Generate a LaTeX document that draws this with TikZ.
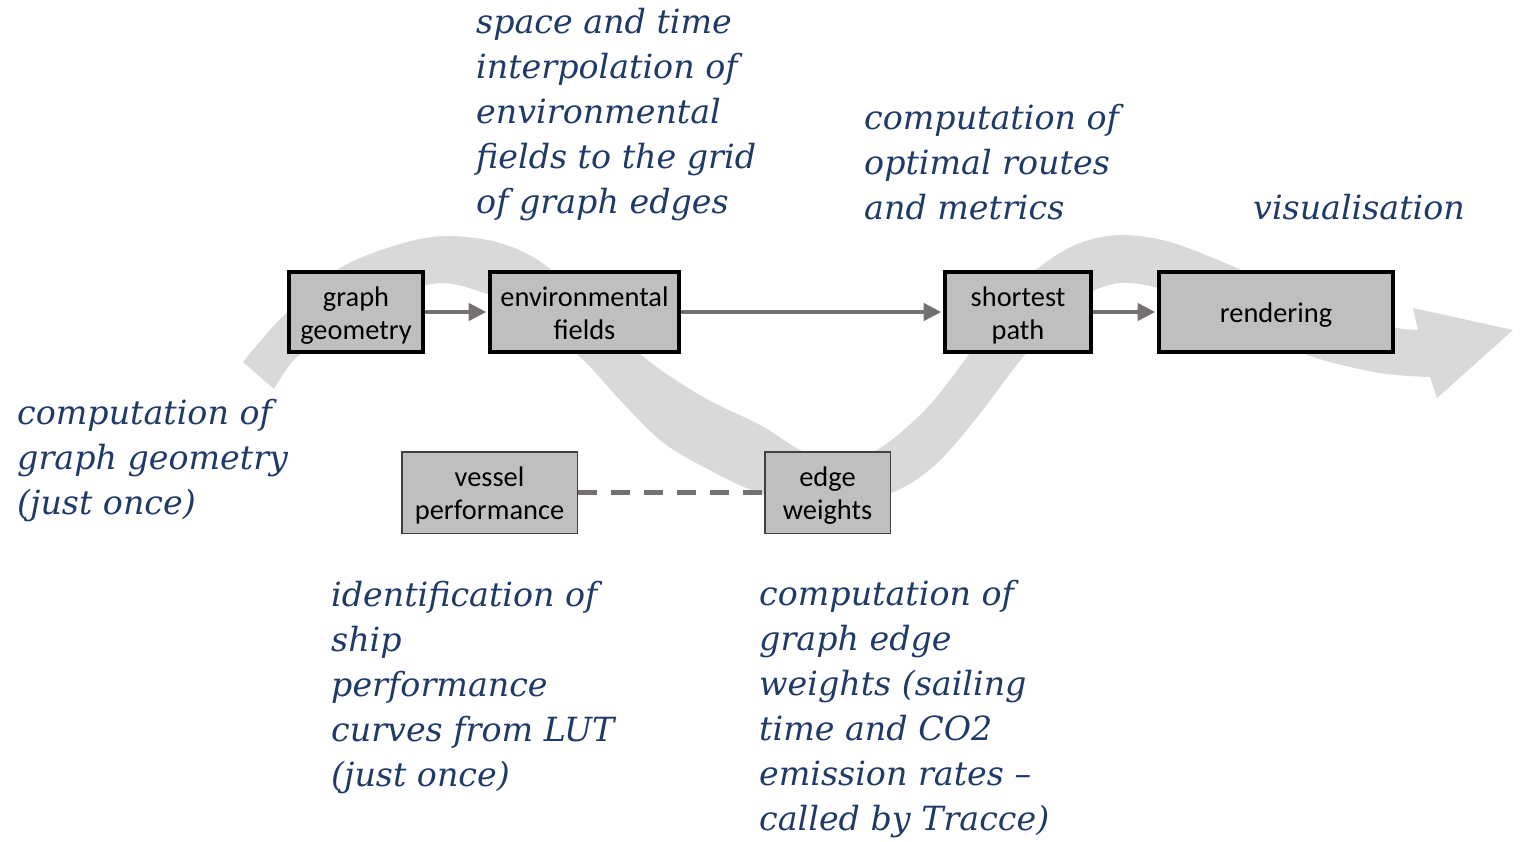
\documentclass[tikz,border=0pt]{standalone}
\usepackage{fontspec}
\setmainfont{Carlito}
\newfontfamily\labfont{DejaVu Serif}
\usetikzlibrary{arrows.meta}
\definecolor{bandgray}{HTML}{D9D9D9}
\definecolor{boxgray}{HTML}{BFBFBF}
\definecolor{conngray}{HTML}{767171}
\definecolor{thinline}{HTML}{404040}
\definecolor{navy}{RGB}{31,58,104}
\newcommand{\labtext}[1]{\begin{tabular}[t]{@{}l@{}}#1\end{tabular}}
\newcommand{\topst}{\rule{0pt}{28pt}}
\newcommand{\botst}{\rule[-7pt]{0pt}{7pt}}
\begin{document}
\begin{tikzpicture}[x=1pt,y=-1pt,
  mainbox/.style={draw=black, line width=4pt, fill=boxgray, minimum width=#1,
    minimum height=80pt, inner sep=0pt, align=center,
    font=\fontsize{28.4}{33}\selectfont},
  subbox/.style={draw=thinline, line width=1.5pt, fill=boxgray, minimum width=#1,
    minimum height=81.5pt, inner sep=0pt, align=center,
    font=\fontsize{28.4}{33}\selectfont},
  lab/.style={anchor=base west, inner sep=0pt, text=navy,
    font=\labfont\itshape\fontsize{33.3}{45}\selectfont},
  conn/.style={draw=conngray, line width=4.5pt,
    -{Triangle[length=18pt,width=17pt]}, shorten >=1.5pt},
  dashconn/.style={draw=conngray, line width=4.5pt, dash pattern=on 19pt off 14pt}
]
\useasboundingbox (0,0) rectangle (1522,841);
% big wavy arrow
\fill[bandgray] plot[smooth, tension=0.55] coordinates {(243,362) (285,314) (340,268) (400,244) (447,236) (500,243) (545,265) (600,315) (650,362) (705,398) (760,425) (800,450) (835,463) (877,450) (925,410) (967,357) (1010,295) (1045,263) (1080,243) (1120,235) (1170,242) (1237,268) (1300,296) (1360,318) (1397,328) (1418,330)}
 -- (1413,308) -- (1513,330) -- (1437,398) -- (1430,377)
 -- plot[smooth, tension=0.55] coordinates {(1430,377) (1380,373) (1313,357) (1250,330) (1180,295) (1120,283) (1070,305) (1023,357) (975,420) (935,465) (893,492) (830,505) (760,493) (700,465) (660,440) (620,400) (580,357) (520,310) (490,295) (443,283) (400,295) (340,330) (297,357) (274,389)}
 -- cycle;
% boxes
\node[mainbox=134pt] (gg) at (356,312) {\topst graph\\geometry\botst};
\node[mainbox=189pt] (env) at (584.5,312) {\topst environmental\\fields\botst};
\node[mainbox=146pt] (sp) at (1018,312) {\topst shortest\\path\botst};
\node[mainbox=234pt] (ren) at (1276,312) {\topst rendering\botst};
\node[subbox=175.5pt] (ves) at (489.5,492.5) {\topst vessel\\performance\botst};
\node[subbox=125.5pt] (ew) at (827.5,492.5) {\topst edge\\weights\botst};
% connectors
\draw[conn] (gg) -- (env);
\draw[conn] (env) -- (sp);
\draw[conn] (sp) -- (ren);
\draw[dashconn] (ves.east) -- (ew.west);
% labels
\node[lab] (t1) at (476,33) {\labtext{space and time\\interpolation of\\environmental\\fields to the grid\\of graph edges}};
\node[lab] (t2) at (864,129) {\labtext{computation of\\optimal routes\\and metrics}};
\node[lab] (t3) at (1253,219) {\labtext{visualisation}};
\node[lab] (t4) at (17,424) {\labtext{computation of\\graph geometry\\(just once)}};
\node[lab] (t5) at (331,606) {\labtext{identification of\\ship\\performance\\curves from LUT\\(just once)}};
\node[lab] (t6) at (759,605) {\labtext{computation of\\graph edge\\weights (sailing\\time and CO2\\emission rates –\\called by Tracce)}};
\end{tikzpicture}
\end{document}
